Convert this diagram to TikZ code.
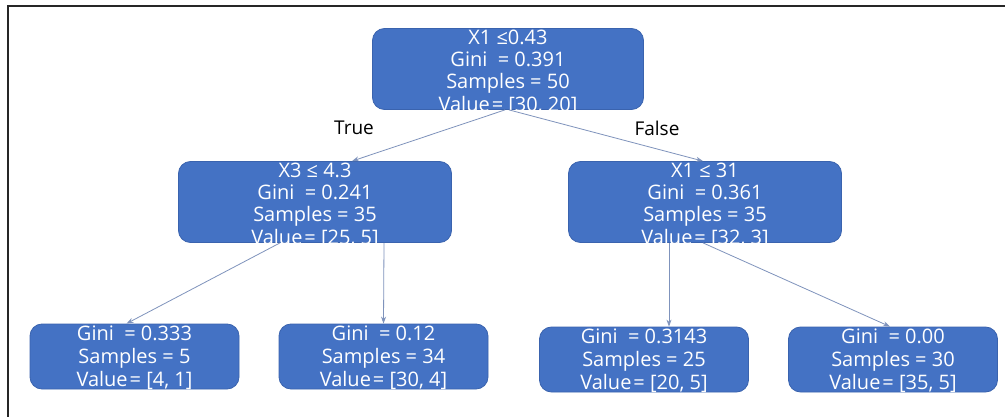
\documentclass[tikz,border=0pt]{standalone}
\usepackage{fontspec}
\setmainfont{Open Sans}
\usetikzlibrary{arrows.meta}
\definecolor{boxblue}{HTML}{4472C4}
\definecolor{boxedge}{HTML}{3A63AE}
\definecolor{linecol}{HTML}{7F93BC}
\newcommand{\vq}{Value\kern2pt=\ }
\newcommand{\tstrut}{\rule{0pt}{20.5pt}}
\newcommand{\lstrut}{\rule{0pt}{17pt}}
\tikzset{
  treebox/.style={draw=boxedge, line width=0.8pt, fill=boxblue, rounded corners=12pt,
    text=white, align=center, inner xsep=0pt, inner ysep=-6pt},
  midbox/.style={treebox, minimum width=273pt, minimum height=81pt, font=\fontsize{20}{22.3}\selectfont},
  leafbox/.style={treebox, minimum width=209pt, minimum height=65pt, font=\fontsize{20}{23}\selectfont},
  conn/.style={draw=linecol, line width=0.8pt, -{Stealth[length=7pt,width=5pt]}},
  lbl/.style={font=\fontsize{19}{20}\selectfont, text=black}
}
\begin{document}
\begin{tikzpicture}[x=1pt,y=-1pt]
\useasboundingbox (0,0) rectangle (1005,417);
\fill[white] (0,0) rectangle (1005,417);
\draw[line width=2pt, black!85] (8,417) -- (8,6) -- (1005,6);
\node[midbox, minimum width=271pt] (root) at (508,69) {\tstrut X1 ≤0.43\\Gini\ \ = 0.391\\Samples = 50\\\vq[30, 20]};
\node[midbox] (lm) at (315,202) {\tstrut X3 ≤ 4.3\\Gini\ \ = 0.241\\Samples = 35\\\vq[25, 5]};
\node[midbox] (rm) at (705,202) {\tstrut X1 ≤ 31\\Gini\ \ = 0.361\\Samples = 35\\\vq[32, 3]};
\node[leafbox] (l1) at (134.5,356.5) {\lstrut Gini\ \ = 0.333\\Samples = 5\\\vq[4, 1]};
\node[leafbox] (l2) at (383.5,356.5) {\lstrut Gini\ \ = 0.12\\Samples = 34\\\vq[30, 4]};
\node[leafbox] (l3) at (644,359.5) {\lstrut Gini\ \ = 0.3143\\Samples = 25\\\vq[20, 5]};
\node[leafbox] (l4) at (893,359.5) {\lstrut Gini\ \ = 0.00\\Samples = 30\\\vq[35, 5]};
\node[lbl] (t) at (354,128) {True};
\node[lbl] (f) at (657,128) {False};
\draw[conn] ([xshift=-3pt]root.south) -- ([xshift=37pt]lm.north);
\draw[conn] ([xshift=1pt]root.south) -- ([xshift=-2pt]rm.north);
\draw[conn] ([xshift=-35pt]lm.south) -- ([xshift=-8pt]l1.north);
\draw[conn] ([xshift=69pt]lm.south) -- (l2.north);
\draw[conn] ([xshift=-36pt]rm.south) -- ([xshift=25pt]l3.north);
\draw[conn] ([xshift=-2pt]rm.south) -- ([xshift=-3pt]l4.north);
\end{tikzpicture}
\end{document}
